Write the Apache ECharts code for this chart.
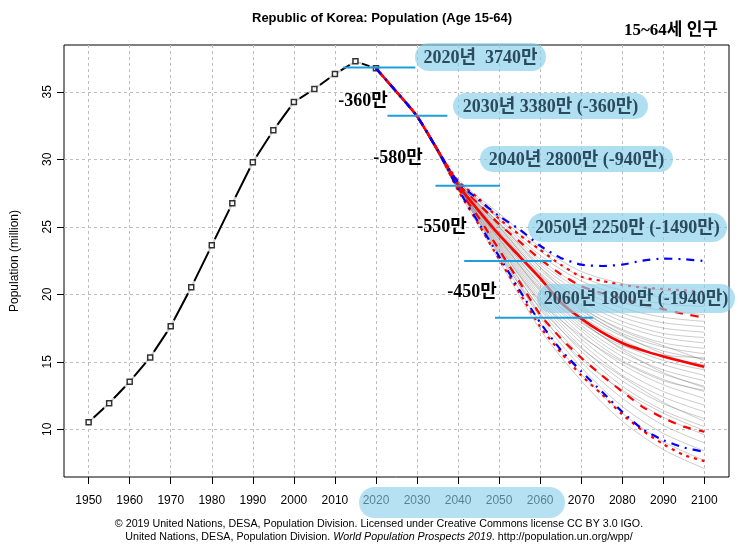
<!DOCTYPE html>
<html><head><meta charset="utf-8">
<script src="https://cdn.jsdelivr.net/npm/echarts@6/dist/echarts.min.js"></script>
<style>html,body{margin:0;padding:0;background:#fff}#c{width:742px;height:550px}</style>
</head><body><div id="c"></div>
<script>
// ---------- data ----------
const histYears  = [1950,1955,1960,1965,1970,1975,1980,1985,1990,1995,2000,2005,2010,2015,2020];
const histValues = [10.52,11.93,13.53,15.33,17.63,20.52,23.63,26.74,29.78,32.15,34.24,35.21,36.32,37.26,36.74];

const projYears  = [2020,2025,2030,2035,2040,2045,2050,2055,2060,2065,2070,2075,2080,2085,2090,2095,2100];
const median     = [36.74,35.0,33.2,30.7,28.1,26.2,24.4,22.8,21.2,19.4,18.2,17.2,16.4,15.85,15.4,15.0,14.64];
const pi80Upper  = [36.74,35.0,33.2,30.7,28.2,26.7,25.2,23.9,22.6,21.5,20.6,20.1,19.7,19.25,18.9,18.55,18.27];
const pi80Lower  = [36.74,35.0,33.2,30.7,27.9,25.7,23.3,20.9,18.5,16.75,15.3,14.0,12.8,11.65,10.85,10.2,9.82];
const pi95Upper  = [36.74,35.0,33.2,30.7,28.4,27.1,25.6,24.4,23.3,22.2,21.3,21.0,20.7,20.5,20.4,20.3,20.2];
const pi95Lower  = [36.74,35.0,33.2,30.7,27.7,25.2,22.6,20.1,17.6,15.7,14.0,12.6,11.1,9.9,8.9,8.1,7.65];
const halfChildUpper = [36.74,35.0,33.2,30.7,28.3,27.0,25.8,24.8,23.6,22.7,22.2,22.1,22.2,22.5,22.65,22.6,22.47];
const halfChildLower = [36.74,35.0,33.2,30.7,27.8,25.3,22.8,20.3,17.9,15.9,14.3,12.8,11.3,10.0,9.2,8.65,8.34];

const grayYears = [2030,2035,2040,2050,2060,2070,2080,2090,2100];
const grayTrajectories = [
  [33.2,30.5,27.7,22.5,17.4,13.6,10.6,8.5,7.1],
  [33.2,30.5,27.8,22.9,17.9,14.1,11.2,9.1,7.7],
  [33.2,30.5,27.8,23.1,18.3,14.6,11.7,9.7,8.4],
  [33.2,30.6,27.9,23.2,18.6,15.0,12.3,10.3,9.0],
  [33.2,30.6,27.9,23.4,18.9,15.4,12.8,10.9,9.6],
  [33.2,30.6,28.0,23.6,19.2,15.8,13.2,11.4,10.2],
  [33.2,30.6,28.0,23.7,19.4,16.1,13.6,11.9,10.8],
  [33.2,30.6,28.0,23.8,19.6,16.4,14.0,12.4,11.3],
  [33.2,30.6,28.0,23.9,19.8,16.7,14.4,12.8,11.8],
  [33.2,30.6,28.1,24.0,20.0,17.0,14.8,13.3,12.3],
  [33.2,30.6,28.1,24.1,20.2,17.3,15.1,13.7,12.8],
  [33.2,30.6,28.1,24.2,20.3,17.5,15.4,14.1,13.2],
  [33.2,30.6,28.1,24.3,20.5,17.7,15.7,14.4,13.6],
  [33.2,30.6,28.1,24.4,20.7,18.0,16.0,14.8,14.0],
  [33.2,30.6,28.1,24.4,20.8,18.2,16.3,15.1,14.4],
  [33.2,30.6,28.2,24.5,21.0,18.4,16.6,15.4,14.8],
  [33.2,30.6,28.2,24.6,21.1,18.6,16.9,15.8,15.2],
  [33.2,30.6,28.2,24.7,21.3,18.8,17.1,16.1,15.6],
  [33.2,30.7,28.2,24.8,21.4,19.0,17.4,16.4,16.0],
  [33.2,30.7,28.2,24.9,21.6,19.2,17.7,16.8,16.4],
  [33.2,30.7,28.3,25.0,21.8,19.5,18.0,17.1,16.8],
  [33.2,30.7,28.3,25.1,22.0,19.7,18.3,17.5,17.2],
  [33.2,30.7,28.3,25.2,22.2,20.0,18.6,17.9,17.6],
  [33.2,30.7,28.3,25.3,22.4,20.3,19.0,18.3,18.0],
  [33.2,30.7,28.4,25.5,22.6,20.6,19.4,18.8,18.5],
  [33.2,30.7,28.4,25.6,22.9,21.0,19.9,19.3,19.1],
  [33.2,30.7,28.4,25.8,23.2,21.3,20.3,19.8,19.6],
  [33.2,30.7,28.5,26.0,23.5,21.7,20.8,20.3,20.1],
  [33.2,30.6,28.0,23.3,19.0,16.0,13.9,12.0,10.6],
  [33.2,30.6,28.1,24.1,20.4,17.9,16.2,15.5,15.3],
  [33.2,30.7,28.3,25.0,21.5,18.9,17.0,15.6,14.5],
  [33.2,30.6,27.9,23.0,18.5,15.2,12.9,11.2,9.9],
  [33.2,30.6,28.1,24.6,21.2,18.1,15.9,14.2,13.1],
  [33.2,30.6,28.0,23.5,19.5,16.9,15.0,13.6,12.9],
  [33.2,30.7,28.2,25.3,22.0,19.1,17.3,16.2,15.1]
];

// reference (cyan) segments: [startYear, endYear, value]
const refSegments = [[2012,2029.6,36.8],[2022.8,2037.4,33.23],[2034.5,2050.2,28.04],[2041.5,2062.8,22.47],[2049,2072.9,18.27]];

const xTicks = [1950,1960,1970,1980,1990,2000,2010,2020,2030,2040,2050,2060,2070,2080,2090,2100];
const yTicks = [10,15,20,25,30,35];

const pillTexts = ['2020년  3740만','2030년 3380만 (-360만)','2040년 2800만 (-940만)','2050년 2250만 (-1490만)','2060년 1800만 (-1940만)'];
const diffTexts = ['-360만','-580만','-550만','-450만'];

// ---------- chart ----------
const zip = (xs, ys) => xs.map((x, i) => [x, ys[i]]);
const chart = echarts.init(document.getElementById('c'), null, {renderer: 'canvas'});

const series = [];
grayTrajectories.forEach(t => series.push({
  type: 'line', data: zip(grayYears, t), showSymbol: false, silent: true, z: 2,
  lineStyle: {color: 'rgba(100,100,100,0.33)', width: 1}, smooth: 0.3
}));
series.push({type: 'line', data: zip(histYears, histValues), showSymbol: false, z: 3,
  lineStyle: {color: '#000', width: 2}});
series.push({type: 'scatter', data: zip(histYears, histValues), symbol: 'circle', symbolSize: 14, z: 4,
  itemStyle: {color: '#fff'}, silent: true});
series.push({type: 'scatter', data: zip(histYears, histValues), symbol: 'rect', symbolSize: 5, z: 5,
  itemStyle: {color: '#fff', borderColor: '#000', borderWidth: 1.5}, silent: true});

const proj = (vals, color, width, type, z) => ({
  type: 'line', data: zip(projYears, vals), showSymbol: false, z: z, smooth: 0.2,
  lineStyle: {color: color, width: width, type: type}
});
series.push(proj(median, '#ff0000', 2.6, 'solid', 6));
series.push(proj(pi95Upper, '#ff0000', 2.2, [3, 5], 7));
series.push(proj(pi95Lower, '#ff0000', 2.2, [3, 5], 7));
series.push(proj(pi80Upper, '#ff0000', 2.2, [8, 8], 7));
series.push(proj(pi80Lower, '#ff0000', 2.2, [8, 8], 7));
series.push(proj(halfChildUpper, '#0000ff', 2.2, [8, 6, 2, 6], 8));
series.push(proj(halfChildLower, '#0000ff', 2.2, [8, 6, 2, 6], 8));

refSegments.forEach(s => series.push({
  type: 'line', data: [[s[0], s[2]], [s[1], s[2]]], showSymbol: false, z: 9, silent: true,
  lineStyle: {color: '#1c9fdc', width: 2}
}));

const pillFill = 'rgba(135,206,235,0.65)';
const pillTextColor = '#2a4a5e';
const serifFont = '"Liberation Serif", "Noto Sans CJK KR", serif';
const pills = [
  {x: 415, y: 43, w: 131, h: 28},
  {x: 453, y: 93, w: 195, h: 26},
  {x: 480, y: 146, w: 193, h: 26},
  {x: 528, y: 213, w: 199, h: 29},
  {x: 537, y: 284, w: 198, h: 29}
];
const diffPos = [[363, 101], [398, 158], [442, 227], [472, 292]];

const graphics = [];
pills.forEach((p, i) => {
  graphics.push({type: 'rect', z: 100, silent: true,
    shape: {x: p.x, y: p.y, width: p.w, height: p.h, r: p.h / 2},
    style: {fill: pillFill}});
  graphics.push({type: 'text', z: 101, silent: true, x: p.x + p.w / 2, y: p.y + p.h / 2 + 1,
    style: {text: pillTexts[i], fill: pillTextColor, font: 'bold 18px ' + serifFont,
      align: 'center', verticalAlign: 'middle', textAlign: 'center', textVerticalAlign: 'middle'}});
});
diffTexts.forEach((t, i) => graphics.push({type: 'text', z: 101, silent: true, x: diffPos[i][0], y: diffPos[i][1],
  style: {text: t, fill: '#000', font: 'bold 18px ' + serifFont,
    align: 'center', verticalAlign: 'middle', textAlign: 'center', textVerticalAlign: 'middle'}}));
// x-axis highlight pill
graphics.push({type: 'rect', z: 100, silent: true, shape: {x: 359, y: 487, width: 206, height: 31, r: 15.5},
  style: {fill: 'rgba(135,206,235,0.62)'}});
// title, subtitle, footer
graphics.push({type: 'text', z: 101, x: 382, y: 18, style: {text: 'Republic of Korea: Population (Age 15-64)',
  fill: '#000', font: 'bold 13px "Liberation Sans", Arial, sans-serif', align: 'center', verticalAlign: 'middle',
  textAlign: 'center', textVerticalAlign: 'middle'}});
graphics.push({type: 'text', z: 101, x: 718, y: 31, style: {text: '15~64세 인구',
  fill: '#000', font: 'bold 17px ' + serifFont, align: 'right', verticalAlign: 'middle',
  textAlign: 'right', textVerticalAlign: 'middle'}});
graphics.push({type: 'text', z: 101, x: 379, y: 524, style: {
  text: '© 2019 United Nations, DESA, Population Division. Licensed under Creative Commons license CC BY 3.0 IGO.',
  fill: '#000', font: '10.7px "Liberation Sans", Arial, sans-serif', align: 'center', verticalAlign: 'middle',
  textAlign: 'center', textVerticalAlign: 'middle'}});
graphics.push({type: 'text', z: 101, x: 379, y: 537, style: {
  text: '{n|United Nations, DESA, Population Division. }{i|World Population Prospects 2019}{n|. http://population.un.org/wpp/}',
  rich: {n: {fontSize: 10.7, fontFamily: '"Liberation Sans", Arial, sans-serif', fill: '#000', color: '#000'},
         i: {fontSize: 10.7, fontStyle: 'italic', fontFamily: '"Liberation Sans", Arial, sans-serif', fill: '#000', color: '#000'}},
  align: 'center', verticalAlign: 'middle', textAlign: 'center', textVerticalAlign: 'middle'}});

chart.setOption({
  animation: false,
  backgroundColor: '#fff',
  grid: {left: 64, right: 13, top: 45, bottom: 73, show: true, borderColor: '#000', borderWidth: 1,
    backgroundColor: 'transparent', containLabel: false, outerBoundsMode: 'none'},
  xAxis: {
    type: 'value', min: 1944, max: 2106,
    axisLine: {show: false},
    axisTick: {show: true, customValues: xTicks, length: 7, lineStyle: {color: '#000'}},
    axisLabel: {customValues: xTicks, formatter: v => String(v), color: '#000', fontSize: 12, margin: 18,
      fontFamily: '"Liberation Sans", Arial, sans-serif'},
    splitLine: {show: true, lineStyle: {color: '#bdbdbd', type: [3, 3], width: 1}}
  },
  yAxis: {
    type: 'value', min: 6.47, max: 38.47,
    name: 'Population (million)', nameLocation: 'middle', nameGap: 43,
    nameTextStyle: {color: '#000', fontSize: 12, fontFamily: '"Liberation Sans", Arial, sans-serif'},
    axisLine: {show: false},
    axisTick: {show: true, customValues: yTicks, length: 7, lineStyle: {color: '#000'}},
    axisLabel: {customValues: yTicks, rotate: 90, color: '#000', fontSize: 12, margin: 10,
      fontFamily: '"Liberation Sans", Arial, sans-serif'},
    splitLine: {show: true, lineStyle: {color: '#bdbdbd', type: [3, 3], width: 1}}
  },
  series: series,
  graphic: {elements: graphics}
});
</script></body></html>
